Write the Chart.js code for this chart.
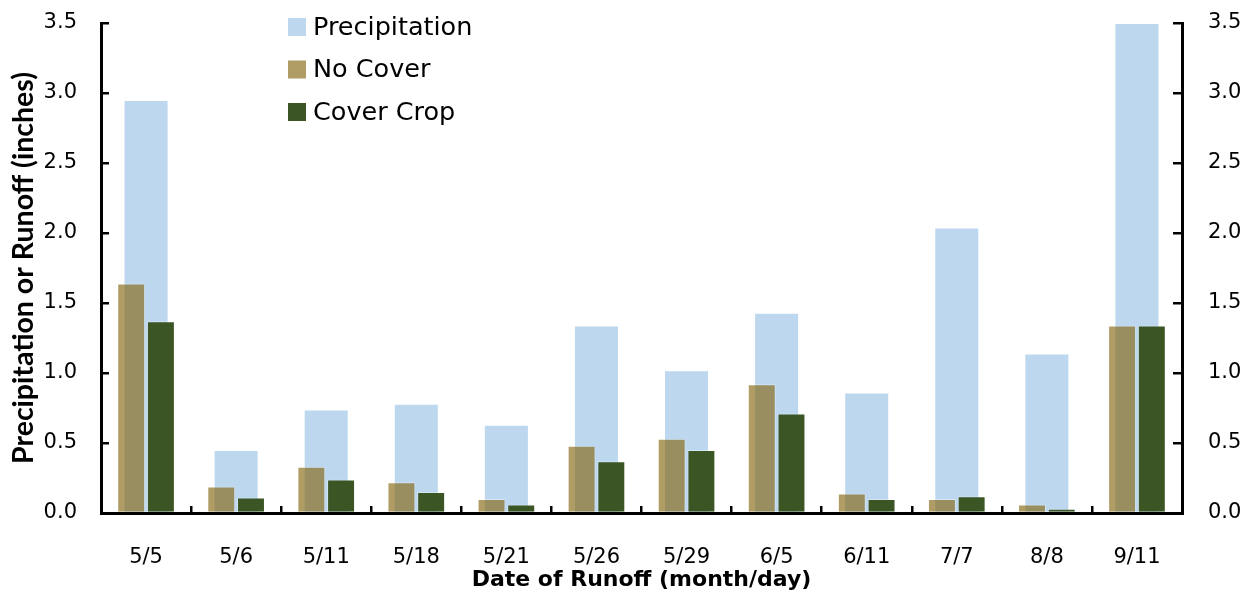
<!DOCTYPE html>
<html>
<head>
<meta charset="utf-8">
<script src="https://cdn.jsdelivr.net/npm/chart.js@4/dist/chart.umd.min.js"></script>
<style>
  html, body { margin: 0; padding: 0; background: #fff; }
  #wrap { width: 1247px; height: 598px; }
</style>
</head>
<body>
<div id="wrap"><canvas id="runoff"></canvas></div>
<script>
  // 日付 (month/day)
  var dates = ['5/5', '5/6', '5/11', '5/18', '5/21', '5/26', '5/29', '6/5', '6/11', '7/7', '8/8', '9/11'];

  // 降水量と流出量 (inches)
  var precipitation = [2.95, 0.45, 0.74, 0.78, 0.63, 1.34, 1.02, 1.43, 0.86, 2.04, 1.14, 3.50];
  var no_cover      = [1.64, 0.19, 0.33, 0.22, 0.10, 0.48, 0.53, 0.92, 0.14, 0.10, 0.06, 1.34];
  var cover_crop    = [1.37, 0.11, 0.24, 0.15, 0.06, 0.37, 0.45, 0.71, 0.10, 0.12, 0.03, 1.34];

  var y_ticks = [0, 0.5, 1.0, 1.5, 2.0, 2.5, 3.0, 3.5];

  var wide_font = '"DejaVu Sans", sans-serif';
  var title_font = 'Lato, "DejaVu Sans", sans-serif';

  // 凡例の色 (白地の上の見た目)
  var legend_colors = ['#BDD7EE', '#B09C65', '#3B5524'];

  // チャートエリア内に凡例を描く
  var inner_legend = {
    id: 'inner_legend',
    afterDraw: function(chart) {
      var ctx = chart.ctx;
      var sets = chart.data.datasets;
      ctx.save();
      ctx.font = '25.5px ' + wide_font;
      ctx.textBaseline = 'middle';
      ctx.textAlign = 'left';
      for (var i = 0; i < sets.length; i++) {
        var cy = 27 + i * 42.5;
        ctx.fillStyle = legend_colors[i];
        ctx.fillRect(288, cy - 9, 18, 18);
        ctx.fillStyle = '#000';
        ctx.fillText(sets[i].label, 313, cy + 1);
      }
      ctx.restore();
    }
  };

  function fmt(v) { return Number(v).toFixed(1); }

  // 縦軸の余白を消して位置を固定
  function fit_y(w) {
    return function(s) { s.width = w; s.paddingTop = 0; s.paddingBottom = 0; };
  }

  var ctx = document.getElementById('runoff').getContext('2d');

  var myChart = new Chart(ctx, {
    type: 'bar',
    data: {
      labels: dates,
      datasets: [
        {
          label: 'Precipitation',
          data: precipitation,
          backgroundColor: '#BDD7EE',
          borderColor: 'rgba(255,255,255,0.5)',
          borderWidth: 1,
          grouped: false,
          order: 1,
          categoryPercentage: 1.0,
          barPercentage: 0.5
        },
        {
          label: 'No Cover',
          data: no_cover,
          backgroundColor: 'rgba(134,103,18,0.65)',
          borderColor: 'rgba(255,255,255,0.35)',
          borderWidth: 1,
          order: 0,
          categoryPercentage: 0.66,
          barPercentage: 0.94
        },
        {
          label: 'Cover Crop',
          data: cover_crop,
          backgroundColor: '#3B5524',
          borderColor: 'rgba(255,255,255,0.35)',
          borderWidth: 1,
          order: 0,
          categoryPercentage: 0.66,
          barPercentage: 0.94
        }
      ]
    },
    options: {
      responsive: true,
      maintainAspectRatio: false,
      animation: false,
      layout: { padding: { top: 23, left: 0, right: 0, bottom: 0 } },
      plugins: {
        legend: { display: false },
        tooltip: { enabled: false }
      },
      scales: {
        x: {
          offset: true,
          grid: { offset: true, drawOnChartArea: false, drawTicks: true, tickLength: -7, color: '#000', lineWidth: 2.5 },
          border: { color: '#000', width: 3 },
          ticks: { color: '#000', font: { family: wide_font, size: 21 }, padding: 39, maxRotation: 0, autoSkip: false },
          title: { display: true, text: 'Date of Runoff (month/day)', color: '#000',
                   font: { family: wide_font, size: 22, weight: 'bold' }, padding: { top: 0, bottom: 5 } },
          afterFit: function(s) { s.height = 85; s.paddingLeft = 0; s.paddingRight = 0; }
        },
        y: {
          position: 'left',
          min: 0,
          max: 3.5,
          afterBuildTicks: function(s) { s.ticks = y_ticks.map(function(v) { return { value: v }; }); },
          grid: { drawOnChartArea: false, drawTicks: true, tickLength: -8, color: '#000', lineWidth: 2.5 },
          border: { color: '#000', width: 3 },
          ticks: { color: '#000', font: { family: wide_font, size: 21 }, padding: 32, callback: fmt },
          title: { display: true, text: 'Precipitation or Runoff (inches)', color: '#000',
                   font: { family: title_font, size: 28.5, weight: 'bold' }, padding: { top: 7 } },
          afterFit: fit_y(101)
        },
        y2: {
          display: true,
          position: 'right',
          min: 0,
          max: 3.5,
          afterBuildTicks: function(s) { s.ticks = y_ticks.map(function(v) { return { value: v }; }); },
          grid: { drawOnChartArea: false, drawTicks: true, tickLength: -9, color: '#000', lineWidth: 2.5 },
          border: { color: '#000', width: 3 },
          ticks: { color: '#000', font: { family: wide_font, size: 21 }, padding: 35, callback: fmt },
          afterFit: fit_y(65)
        }
      }
    },
    plugins: [inner_legend]
  });
</script>
</body>
</html>
